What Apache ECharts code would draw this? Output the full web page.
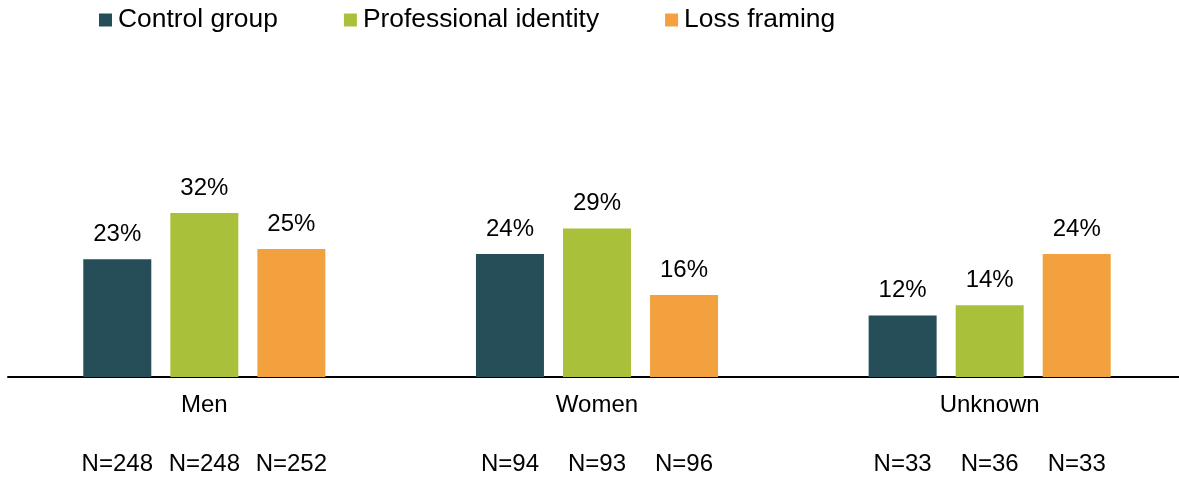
<!DOCTYPE html>
<html>
<head>
<meta charset="utf-8">
<script src="https://cdn.jsdelivr.net/npm/echarts@6/dist/echarts.min.js"></script>
<style>
  html, body { margin: 0; padding: 0; background: #ffffff; }
  #chart { width: 1179px; height: 477px; }
</style>
</head>
<body>
<div id="chart"></div>
<script>
// Share of respondents by gender and message variant
const categories = ['Men', 'Women', 'Unknown'];
const seriesNames = ['Control group', 'Professional identity', 'Loss framing'];
const controlValues = [23, 24, 12];
const professionalValues = [32, 29, 14];
const lossValues = [25, 16, 24];
const controlN = [248, 94, 33];
const professionalN = [248, 93, 36];
const lossN = [252, 96, 33];

const colors = ['#254E58', '#A9C03A', '#F3A03F'];
const FONT = '"Liberation Sans", Arial, sans-serif';
const BAR_W = 68;
const BAR_GAP = '28%';

const values = [controlValues, professionalValues, lossValues];
const counts = [controlN, professionalN, lossN];

// Visible bars with percentage labels on top
const valueSeries = seriesNames.map((name, i) => ({
  name: name,
  type: 'bar',
  xAxisIndex: 0,
  barWidth: BAR_W,
  barGap: BAR_GAP,
  itemStyle: { color: colors[i] },
  label: {
    show: true,
    position: 'top',
    distance: 13,
    formatter: p => p.value + '%',
    color: '#000',
    fontFamily: FONT,
    fontSize: 24
  },
  emphasis: { disabled: true },
  data: values[i]
}));

// Zero-height bars on a hidden twin axis that carry the sample sizes
const countSeries = seriesNames.map((name, i) => ({
  name: name + ' N',
  type: 'bar',
  xAxisIndex: 1,
  barWidth: BAR_W,
  barGap: BAR_GAP,
  itemStyle: { color: 'transparent' },
  label: {
    show: true,
    position: 'bottom',
    distance: 75,
    formatter: p => 'N=' + counts[i][p.dataIndex],
    color: '#000',
    fontFamily: FONT,
    fontSize: 24
  },
  emphasis: { disabled: true },
  silent: true,
  data: categories.map(() => 0)
}));

const chart = echarts.init(document.getElementById('chart'), null, { renderer: 'canvas' });
chart.setOption({
  animation: false,
  color: colors,
  legend: {
    data: seriesNames,
    left: 94,
    top: 2,
    itemWidth: 13,
    itemHeight: 13,
    itemGap: 66,
    icon: 'rect',
    textStyle: { fontFamily: FONT, fontSize: 26.4, color: '#000', padding: [0, 0, 0, 1] }
  },
  grid: { left: 8, width: 1178, top: 172, bottom: 100, containLabel: false, outerBoundsMode: 'none' },
  xAxis: [
    {
      type: 'category',
      data: categories,
      axisLine: { show: true, lineStyle: { color: '#000', width: 2 } },
      axisTick: { show: false },
      axisLabel: { color: '#000', fontFamily: FONT, fontSize: 24, margin: 16 }
    },
    {
      type: 'category',
      data: categories,
      show: false
    }
  ],
  yAxis: {
    type: 'value',
    min: 0,
    max: 40,
    show: false,
    splitLine: { show: false }
  },
  series: valueSeries.concat(countSeries)
});
</script>
</body>
</html>
